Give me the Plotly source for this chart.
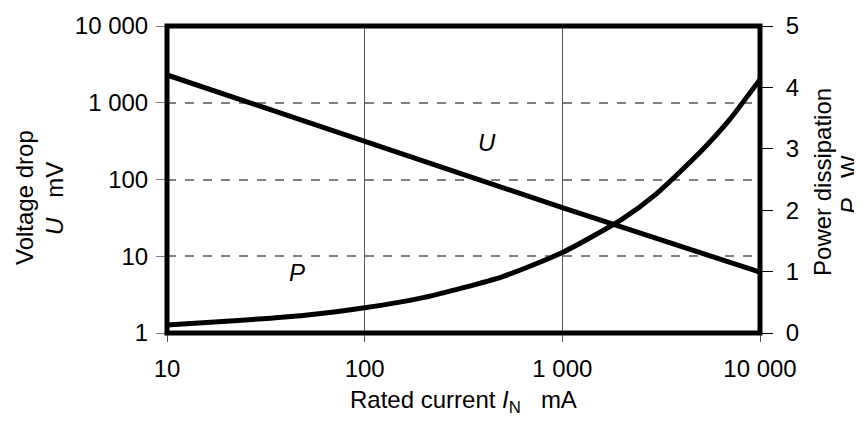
import plotly.graph_objects as go

# Data
current_u = [10, 100, 1000, 10000]          # mA
voltage_drop = [2300, 315, 43, 6.2]          # mV

current_p = [10, 20, 50, 100, 200, 500, 1000, 2000, 3000, 5000, 7000, 10000]  # mA
power = [0.13, 0.19, 0.29, 0.41, 0.58, 0.92, 1.31, 1.85, 2.27, 2.95, 3.47, 4.13]  # W

x_tickvals = [10, 100, 1000, 10000]
x_ticktext = ["10", "100", "1 000", "10 000"]
y_tickvals = [1, 10, 100, 1000, 10000]
y_ticktext = ["1", "10", "100", "1 000", "10 000"]
y2_tickvals = [0, 1, 2, 3, 4, 5]

FONT = "Liberation Sans, Arial, sans-serif"
FS = 24
NB = "\u00a0"

fig = go.Figure()
fig.add_trace(go.Scatter(x=current_u, y=voltage_drop, mode="lines",
                         line=dict(color="black", width=5),
                         yaxis="y", showlegend=False, hoverinfo="skip"))
fig.add_trace(go.Scatter(x=current_p, y=power, mode="lines",
                         line=dict(color="black", width=5, shape="spline", smoothing=0.6),
                         yaxis="y2", showlegend=False, hoverinfo="skip"))

fig.update_layout(
    width=854, height=415,
    margin=dict(l=159, r=102, t=18, b=90),
    paper_bgcolor="white", plot_bgcolor="white",
    font=dict(family=FONT, size=FS, color="black"),
    xaxis=dict(type="log", range=[1, 4], tickvals=x_tickvals, ticktext=x_ticktext,
               showgrid=True, gridcolor="#555555", gridwidth=1, showline=False,
               ticks="outside", ticklen=8, tickcolor="#555555", tickwidth=1,
               zeroline=False, ticklabelstandoff=6, automargin=False),
    yaxis=dict(type="log", range=[0, 4], tickvals=y_tickvals, ticktext=y_ticktext,
               showgrid=True, gridcolor="#808080", gridwidth=1.5, griddash="dash",
               showline=False, ticks="outside", ticklen=10, tickcolor="#808080", tickwidth=1,
               ticklabelstandoff=3, zeroline=False, automargin=False),
    yaxis2=dict(overlaying="y", side="right", range=[0, 5], tickvals=y2_tickvals,
                showgrid=False, showline=False,
                ticks="outside", ticklen=12, tickcolor="black", tickwidth=1,
                ticklabelstandoff=8, zeroline=False, automargin=False),
    shapes=[dict(type="rect", xref="paper", yref="paper", x0=0, x1=1, y0=0, y1=1,
                 line=dict(color="black", width=5), layer="above")],
)

annotations = [
    dict(text="Rated current <i>I</i><sub>N</sub>" + NB * 3 + "mA", xref="paper", yref="paper",
         x=0.5, y=-0.2215, showarrow=False, xanchor="center", yanchor="middle",
         font=dict(size=FS)),
    dict(text="Voltage drop", xref="paper", yref="paper",
         x=-0.2411, y=0.4397, showarrow=False, textangle=-90, xanchor="center", yanchor="middle",
         font=dict(size=FS)),
    dict(text="<i>U</i>" + NB * 3 + "mV", xref="paper", yref="paper",
         x=-0.1906, y=0.4397, showarrow=False, textangle=-90, xanchor="center", yanchor="middle",
         font=dict(size=FS)),
    dict(text="Power dissipation", xref="paper", yref="paper",
         x=1.1062, y=0.4919, showarrow=False, textangle=-90, xanchor="center", yanchor="middle",
         font=dict(size=FS)),
    dict(text="<i>P</i>" + NB * 3 + "W", xref="paper", yref="paper",
         x=1.1501, y=0.482, showarrow=False, textangle=-90, xanchor="center", yanchor="middle",
         font=dict(size=FS)),
    dict(text="<i>U</i>", xref="x", yref="y", x=2.619, y=2.48, showarrow=False,
         font=dict(size=FS)),
    dict(text="<i>P</i>", xref="x", yref="y", x=1.658, y=0.79, showarrow=False,
         font=dict(size=FS)),
]
fig.update_layout(annotations=annotations)

fig.write_html("out.html")
